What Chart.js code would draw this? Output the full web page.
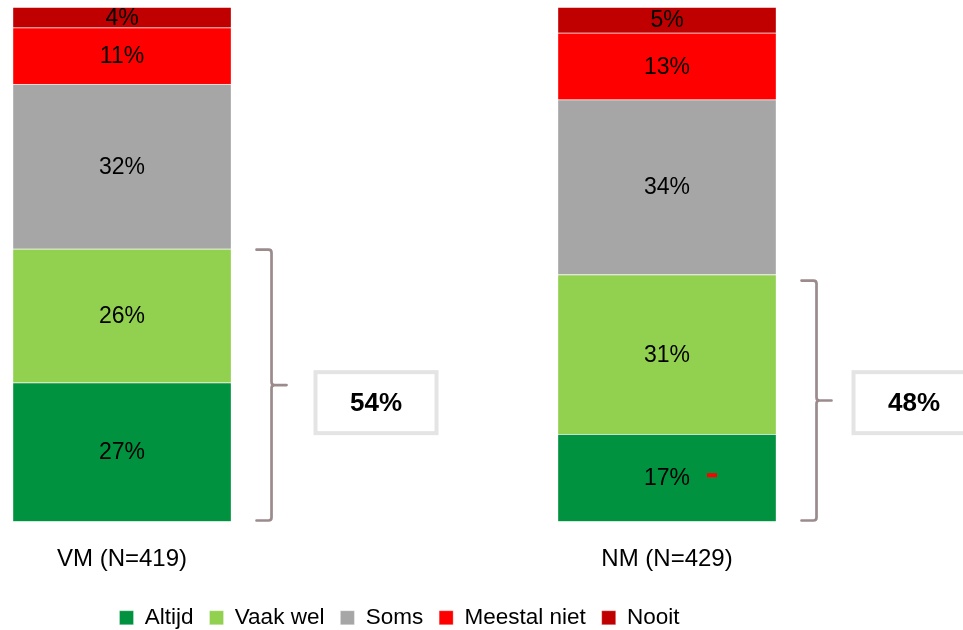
<!DOCTYPE html>
<html><head><meta charset="utf-8">
<script src="https://cdn.jsdelivr.net/npm/chart.js@4/dist/chart.umd.min.js"></script>
<style>html,body{margin:0;padding:0;background:#fff;overflow:hidden}#wrap{width:963px;height:630px;position:relative}</style>
</head><body><div id="wrap"><canvas id="c" width="963" height="630"></canvas></div>
<script>
const categories = ['VM (N=419)', 'NM (N=429)'];
const seriesNames = ['Altijd', 'Vaak wel', 'Soms', 'Meestal niet', 'Nooit'];
const altijd = [27, 17];
const vaakWel = [26, 31];
const soms = [32, 34];
const meestalNiet = [11, 13];
const nooit = [4, 5];
const bracketTotals = [54, 48];
const bracketLabels = ['54%', '48%'];
const seriesColors = ['#00923f', '#92d050', '#a6a6a6', '#ff0000', '#c00000'];

const FONT = '"Liberation Sans", Arial, sans-serif';
const seriesValues = [altijd, vaakWel, soms, meestalNiet, nooit];
const BOX_GAP = [42, 35];

const datasets = seriesNames.map((name, si) => ({
  label: name,
  data: seriesValues[si].map((v, i) => ({ x: i, y: v })),
  backgroundColor: seriesColors[si],
  borderColor: 'rgba(255,255,255,0.28)',
  borderWidth: 1,
  barThickness: 219
}));

const annot = {
  id: 'annot',
  afterDatasetsDraw(chart) {
    const ctx = chart.ctx;
    const ys = chart.scales.y;
    ctx.save();
    ctx.font = '23px ' + FONT;
    ctx.fillStyle = '#000';
    ctx.textAlign = 'center';
    ctx.textBaseline = 'middle';
    chart.data.datasets.forEach((ds, di) => {
      const meta = chart.getDatasetMeta(di);
      meta.data.forEach((el, i) => {
        ctx.fillText(ds.data[i].y + '%', el.x, (el.y + el.base) / 2 + 1);
      });
    });
    bracketTotals.forEach((t, i) => {
      const el = chart.getDatasetMeta(0).data[i];
      const right = el.x + el.width / 2;
      const vx = right + 40;
      const top = ys.getPixelForValue(t) + 6;
      const bot = ys.getPixelForValue(0) - 1;
      const mid = (top + bot) / 2;
      ctx.strokeStyle = '#9b8b8d';
      ctx.lineWidth = 2.7;
      ctx.lineCap = 'round';
      ctx.beginPath();
      ctx.moveTo(vx - 15, top);
      ctx.lineTo(vx - 3, top);
      ctx.quadraticCurveTo(vx, top, vx, top + 3);
      ctx.lineTo(vx, mid - 3);
      ctx.quadraticCurveTo(vx, mid, vx + 3, mid);
      ctx.lineTo(vx + 15, mid);
      ctx.moveTo(vx + 3, mid);
      ctx.quadraticCurveTo(vx, mid, vx, mid + 3);
      ctx.lineTo(vx, bot - 3);
      ctx.quadraticCurveTo(vx, bot, vx - 3, bot);
      ctx.lineTo(vx - 15, bot);
      ctx.stroke();
      const bl = vx + BOX_GAP[i], bw = 125, bh = 65;
      const cy = ys.getPixelForValue(23.1);
      ctx.strokeStyle = '#e4e4e4';
      ctx.lineWidth = 4;
      ctx.strokeRect(bl + 2, cy - bh / 2 + 2, bw - 4, bh - 4);
      ctx.fillStyle = '#000';
      ctx.font = 'bold 26px ' + FONT;
      ctx.fillText(bracketLabels[i], bl + bw / 2, cy + 1);
    });
    // small red mark inside NM bottom segment
    const el1 = chart.getDatasetMeta(0).data[1];
    ctx.fillStyle = '#ff0000';
    ctx.fillRect(el1.x + 40, ys.getPixelForValue(9) - 2, 10, 4);
    ctx.restore();
  }
};

new Chart(document.getElementById('c'), {
  type: 'bar',
  data: { datasets },
  options: {
    responsive: false,
    animation: false,
    layout: { padding: { top: 7, left: 0, right: 164, bottom: -9 } },
    scales: {
      x: {
        type: 'linear',
        stacked: true,
        offset: false,
        min: -0.2239,
        max: 1.2422,
        grid: { display: false, drawTicks: false, offset: false },
        border: { display: false },
        afterBuildTicks: s => { s.ticks = categories.map((c, i) => ({ value: i })); },
        afterFit: s => { s.height = 69; },
        ticks: {
          padding: 23,
          color: '#000',
          font: { family: FONT, size: 24 },
          maxRotation: 0,
          autoSkip: false,
          callback: v => categories[v] !== undefined ? categories[v] : ''
        }
      },
      y: {
        stacked: true,
        display: false,
        min: 0,
        max: 100
      }
    },
    plugins: {
      legend: {
        position: 'bottom',
        labels: {
          boxWidth: 14,
          boxHeight: 14,
          padding: 16,
          color: '#000',
          font: { family: FONT, size: 22.5 }
        }
      },
      tooltip: { enabled: false }
    }
  },
  plugins: [annot]
});
</script>
</body></html>
